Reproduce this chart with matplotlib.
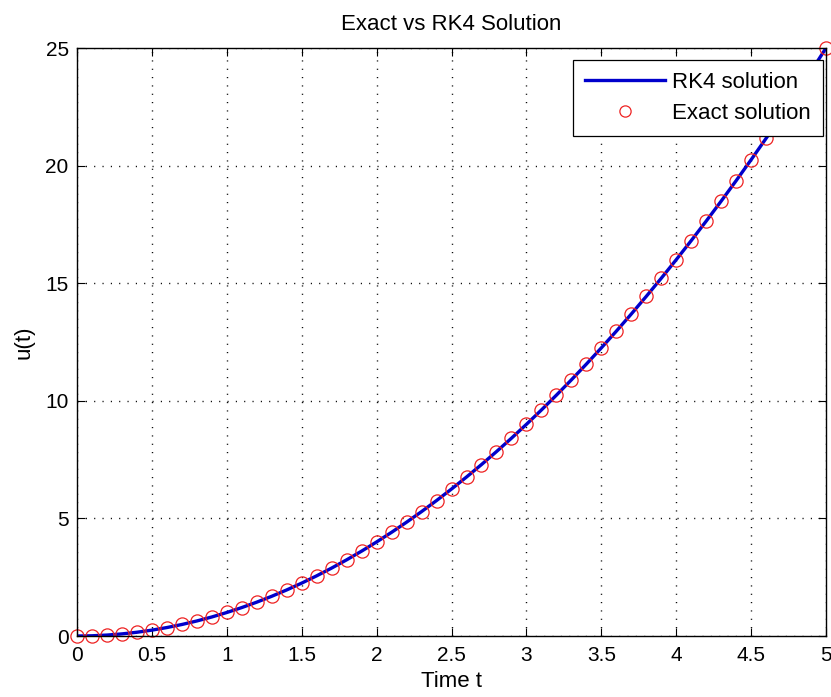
import matplotlib.pyplot as plt

plt.rcParams['font.family'] = ['Liberation Sans', 'DejaVu Sans']

# sample times and values
t = [0.0, 0.1, 0.2, 0.3, 0.4, 0.5, 0.6, 0.7, 0.8, 0.9,
     1.0, 1.1, 1.2, 1.3, 1.4, 1.5, 1.6, 1.7, 1.8, 1.9,
     2.0, 2.1, 2.2, 2.3, 2.4, 2.5, 2.6, 2.7, 2.8, 2.9,
     3.0, 3.1, 3.2, 3.3, 3.4, 3.5, 3.6, 3.7, 3.8, 3.9,
     4.0, 4.1, 4.2, 4.3, 4.4, 4.5, 4.6, 4.7, 4.8, 4.9, 5.0]
u_rk4 = [0.0, 0.01, 0.04, 0.09, 0.16, 0.25, 0.36, 0.49, 0.64, 0.81,
         1.0, 1.21, 1.44, 1.69, 1.96, 2.25, 2.56, 2.89, 3.24, 3.61,
         4.0, 4.41, 4.84, 5.29, 5.76, 6.25, 6.76, 7.29, 7.84, 8.41,
         9.0, 9.61, 10.24, 10.89, 11.56, 12.25, 12.96, 13.69, 14.44, 15.21,
         16.0, 16.81, 17.64, 18.49, 19.36, 20.25, 21.16, 22.09, 23.04, 24.01, 25.0]
u_exact = list(u_rk4)

xticks = [0, 0.5, 1, 1.5, 2, 2.5, 3, 3.5, 4, 4.5, 5]
xticklabels = ['0', '0.5', '1', '1.5', '2', '2.5', '3', '3.5', '4', '4.5', '5']
yticks = [0, 5, 10, 15, 20, 25]

fig = plt.figure(figsize=(8.31, 6.97), dpi=100)
ax = fig.add_axes([0.0927, 0.0875, 0.9013, 0.8436])

ax.plot(t, u_rk4, color='#0000cc', linewidth=2.4, label='RK4 solution')
ax.plot(t, u_exact, linestyle='none', marker='o', markersize=9.5,
        markerfacecolor='none', markeredgecolor='#ee2222', markeredgewidth=0.9,
        label='Exact solution', clip_on=False)

ax.set_xlim(0, 5)
ax.set_ylim(0, 25)
ax.set_xticks(xticks)
ax.set_xticklabels(xticklabels)
ax.set_yticks(yticks)
ax.grid(True, linestyle=(0, (0.8, 5.2)), color='black', linewidth=1.0)
ax.tick_params(direction='in', top=True, right=True, labelsize=15, length=6)
ax.tick_params(axis='x', pad=7.5)
ax.tick_params(axis='y', pad=6)
for s in ax.spines.values():
    s.set_linewidth(1.0)

ax.set_title('Exact vs RK4 Solution', fontsize=16, pad=13)
ax.set_xlabel('Time t', fontsize=16, labelpad=4)
ax.set_ylabel('u(t)', fontsize=16, labelpad=8)

leg = ax.legend(loc='upper right', bbox_to_anchor=(0.996, 0.98), borderaxespad=0,
                fontsize=16, fancybox=False, framealpha=1, edgecolor='black',
                handlelength=3.6, handletextpad=0.3, borderpad=0.55, labelspacing=0.45,
                markerscale=0.85)
leg.get_frame().set_linewidth(0.9)

fig.savefig('out.png', dpi=100)
